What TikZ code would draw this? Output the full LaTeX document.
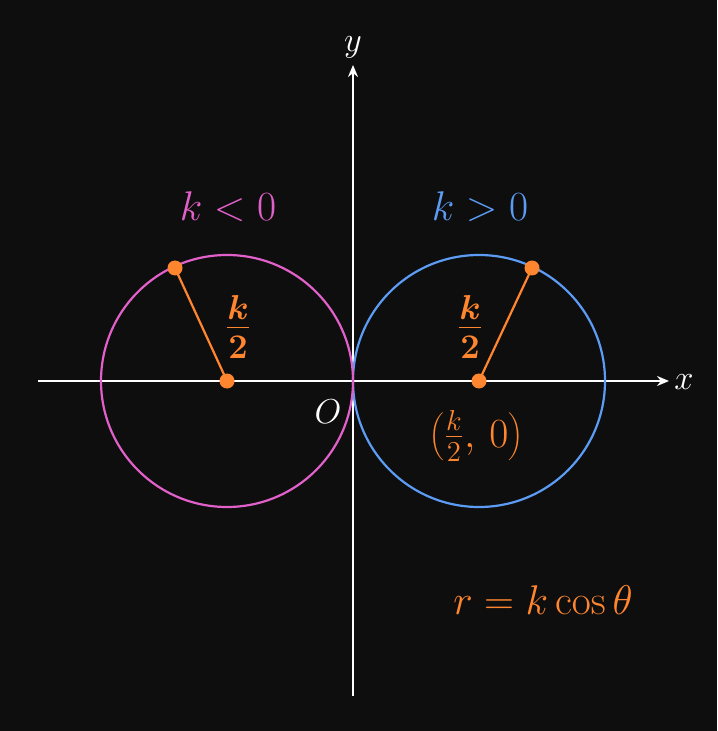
\documentclass[tikz,border=0pt]{standalone}
\usetikzlibrary{arrows.meta}
\definecolor{bg}{HTML}{0E0E0E}
\definecolor{pinkc}{HTML}{E260C9}
\definecolor{bluec}{HTML}{5C9CF5}
\definecolor{orangec}{HTML}{FF862F}
\begin{document}
\begin{tikzpicture}[x=0.5pt,y=-0.5pt,
  axis/.style={draw=white,line width=1.1pt,-{Stealth[length=6pt,width=5pt]}},
  circ/.style={line width=1.1pt},
  radius line/.style={draw=orangec,line width=1.1pt},
  dotc/.style={circle,fill=orangec,inner sep=0pt,minimum size=7.5pt},
  lbl/.style={inner sep=0pt}]
\fill[bg] (0,0) rectangle (717,731);
\useasboundingbox (0,0) rectangle (717,731);
% axes
\coordinate (xs) at (38,381);
\coordinate (xe) at (669,381);
\coordinate (ys) at (353,696);
\coordinate (ye) at (353,65);
\draw[axis] (xs) -- (xe);
\draw[axis] (ys) -- (ye);
\node[lbl,text=white,font=\fontsize{17}{20}\selectfont] (xl) at (684,382) {$x$};
\node[lbl,text=white,font=\fontsize{17}{20}\selectfont] (yl) at (353,47) {$y$};
\node[lbl,text=white,font=\fontsize{17}{20}\selectfont] (O) at (328,412) {$O$};
% circles
\node[draw=bluec,circ,circle,minimum size=126pt,inner sep=0pt] (cr) at (479,381) {};
\node[draw=pinkc,circ,circle,minimum size=126pt,inner sep=0pt] (cl) at (227,381) {};
% radii
\node[dotc] (pr0) at (479,381) {};
\node[dotc] (pr1) at (532,268) {};
\node[dotc] (pl0) at (227,381) {};
\node[dotc] (pl1) at (175,268) {};
\draw[radius line] (pr0.center) -- (pr1.center);
\draw[radius line] (pl0.center) -- (pl1.center);
% labels
\node[lbl,text=pinkc,font=\fontsize{22}{26}\selectfont] (kneg) at (228,207) {$k<0$};
\node[lbl,text=bluec,font=\fontsize{22}{26}\selectfont] (kpos) at (480,207) {$k>0$};
\node[lbl,text=orangec,font=\fontsize{24}{28}\selectfont\boldmath] (fl) at (238,327) {$\frac{k}{2}$};
\node[lbl,text=orangec,font=\fontsize{24}{28}\selectfont\boldmath] (fr) at (470,327) {$\frac{k}{2}$};
\node[lbl,text=orangec,font=\fontsize{21}{25}\selectfont] (pt) at (476,436) {$\left(\frac{k}{2},\,0\right)$};
\node[lbl,text=orangec,font=\fontsize{22.5}{26}\selectfont] (eq) at (543,600) {$r=k\cos\theta$};
\end{tikzpicture}
\end{document}
